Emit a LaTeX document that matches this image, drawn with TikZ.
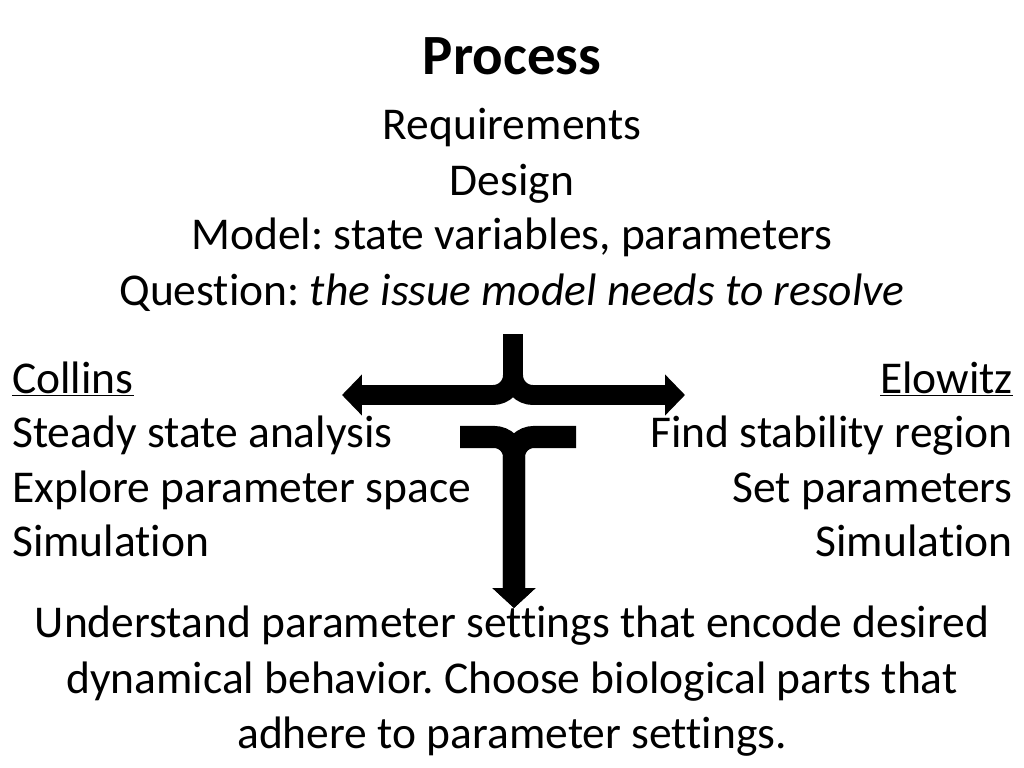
\documentclass[tikz,border=0pt]{standalone}
\usepackage{fontspec}
\setmainfont{Carlito}[Ligatures=NoCommon]
\usetikzlibrary{arrows.meta}
\frenchspacing

\tikzset{
	txt/.style={anchor=base, inner sep=0pt, font=\fontsize{32}{38}\selectfont},
	fat/.style={line width=14pt, rounded corners=14pt, -{Triangle[length=14pt,width=28pt]}},
	fatter/.style={line width=15.5pt, rounded corners=14pt, -{Triangle[length=14pt,width=29.5pt]}},
}

\begin{document}
\begin{tikzpicture}[x=0.703125pt, y=-0.703125pt]
	\useasboundingbox (0,0) rectangle (1024,768);

	\node[txt, font=\fontsize{40}{48}\selectfont\bfseries](title) at (512,75) {Process};
	\node[txt](req) at (512,140) {Requirements};
	\node[txt](design) at (512,196) {Design};
	\node[txt](model) at (512,250) {Model: state variables, parameters};
	\node[txt](question) at (512,305) {Question: \textit{the issue model needs to resolve}};

	\node[txt, anchor=base west](collins) at (12,393) {\underline{Collins}};
	\node[txt, anchor=base west](steady) at (12,447) {Steady state analysis};
	\node[txt, anchor=base west](explore) at (12,502) {Explore parameter space};
	\node[txt, anchor=base west](simL) at (12,556) {Simulation};

	\node[txt, anchor=base east](elowitz) at (1013,393) {\underline{Elowitz}};
	\node[txt, anchor=base east](findreg) at (1013,447) {Find stability region};
	\node[txt, anchor=base east](setpar) at (1013,502) {Set parameters};
	\node[txt, anchor=base east](simR) at (1013,556) {Simulation};

	\node[txt](under) at (512,637) {Understand parameter settings that encode desired};
	\node[txt](dyn) at (512,693) {dynamical behavior. Choose biological parts that};
	\node[txt](adh) at (512,748) {adhere to parameter settings.};

	\coordinate (split) at (513,334);
	\coordinate (toleft) at (342,395);
	\coordinate (toright) at (685,395);
	\coordinate (fromleft) at (460,437);
	\coordinate (fromright) at (576,437);
	\coordinate (merge) at (514,608);

	\draw[fat](split) |- (toleft);
	\draw[fat](split) |- (toright);
	\draw[fatter](fromleft) -| (merge);
	\draw[fatter](fromright) -| (merge);
\end{tikzpicture}
\end{document}
